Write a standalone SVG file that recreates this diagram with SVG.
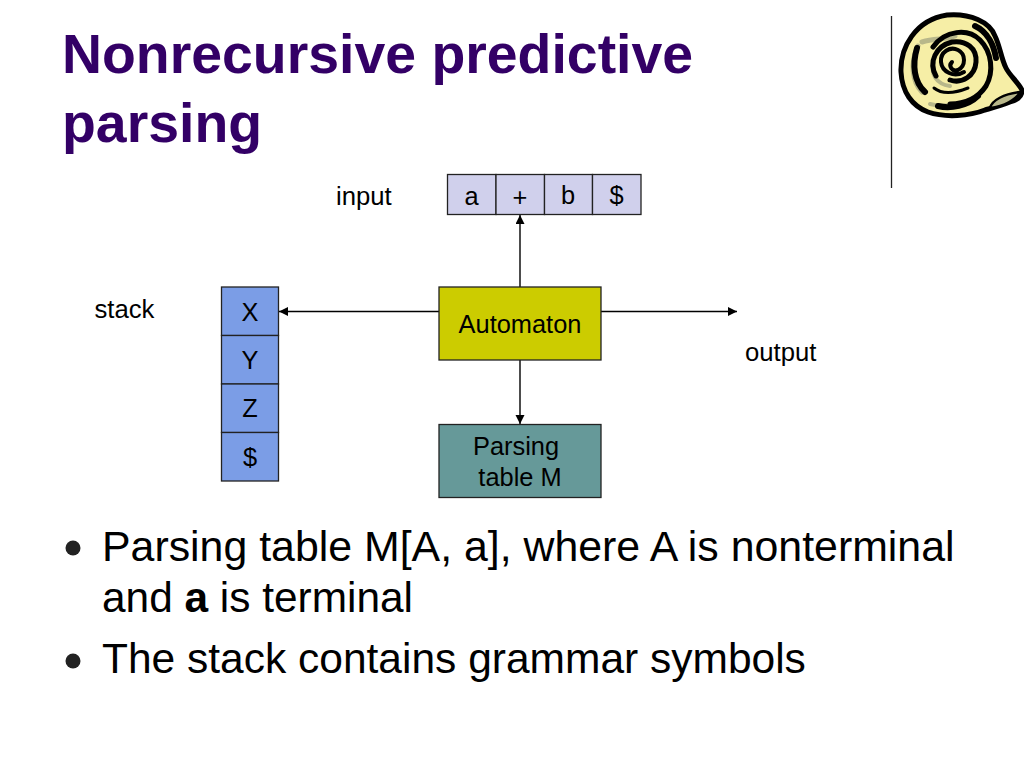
<svg xmlns="http://www.w3.org/2000/svg" width="1024" height="768" viewBox="0 0 1024 768">
<style>
text{font-family:"Liberation Sans",Arial,sans-serif;fill:#000}
.title{font-size:55.4px;font-weight:700;fill:#330066}
.lbl{font-size:25.7px}
.cell{font-size:25.4px;text-anchor:middle}
.body{font-size:42.85px}
.b2{font-size:42.4px}
.b3{font-size:42.5px}
.box{stroke:#222;stroke-width:1.3}
.in{fill:#d0d0ec}
.st{fill:#7b9de6}
.c{stroke:#000;stroke-width:1.4;fill:none;marker-end:url(#ah)}
.k{fill:none;stroke:#000;stroke-linecap:round;stroke-linejoin:round}
.g{fill:none;stroke:#b8b78a;stroke-linecap:round}
</style>
<defs><marker id="ah" markerUnits="userSpaceOnUse" markerWidth="10" markerHeight="10" refX="9" refY="4.500" orient="auto"><path d="M0 0L9 4.500L0 9z" fill="#000"/></marker></defs>
<rect width="1024" height="768" fill="#fff"/>
<g id="title"><text class="title" x="62" y="73">Nonrecursive predictive</text><text class="title" x="62" y="142">parsing</text></g>
<g id="logo">
<line x1="891.500" y1="16" x2="891.500" y2="188" stroke="#222" stroke-width="1.300"/>
<path d="M947 15C970 13 990 22 995 36C1000 46 1001 58 1006 68C1010 76 1018 82 1022 90C1022 98 1016 100 1010 102C1000 106 992 108 985 110C970 116 945 118 928 112C912 106 902 92 901 72C900 48 915 20 947 15Z" fill="#f6eea6" stroke="#000" stroke-width="5"/>
<path d="M990 108C992 100 1004 94 1020 92C1016 100 1004 106 990 108Z" fill="#b8b78a" stroke="#000" stroke-width="2.500"/>
<path class="g" stroke-width="5" d="M918 46C910 62 912 82 922 92"/>
<path class="g" stroke-width="5" d="M922 42C935 38 945 40 955 36"/>
<path class="g" stroke-width="4" d="M930 104C945 108 965 104 978 96"/>
<path class="g" stroke-width="4" d="M934 62C930 74 936 84 950 86"/>
<path class="k" stroke-width="6" d="M917 48C912 65 914 82 925 92"/>
<path class="k" stroke-width="5" d="M933 47C945 30 968 28 980 40C992 52 994 72 986 86C978 98 965 104 950 104"/>
<path class="k" stroke-width="6" d="M938 106C950 109 968 106 978 96"/>
<path class="k" stroke-width="5" d="M936 76C928 62 936 46 952 42C966 40 977 48 976 62C975 76 962 84 950 80"/>
<path class="k" stroke-width="4" d="M964 72C954 78 942 72 941 62C940 52 950 46 958 50C966 54 966 66 958 70C952 72 948 66 952 62"/>
<path class="k" stroke-width="6" d="M975 26C988 32 994 46 996 58"/>
<path class="k" stroke-width="3" d="M934 88C944 96 958 92 968 88"/>
</g>
<g id="connectors">
<path class="c" d="M520 287V215"/>
<path class="c" d="M439 311.500H279"/>
<path class="c" d="M601 311.500H737"/>
<path class="c" d="M520 360V424"/>
</g>
<text class="lbl" x="336" y="205">input</text>
<text class="lbl" x="94.500" y="318">stack</text>
<text class="lbl" x="745" y="361">output</text>
<g id="input-a"><rect class="box in" x="447.500" y="174.500" width="48.500" height="40"/><text class="cell" x="471.500" y="205">a</text></g>
<g id="input-plus"><rect class="box in" x="496" y="174.500" width="48.500" height="40"/><text class="cell" x="520" y="206">+</text></g>
<g id="input-b"><rect class="box in" x="544.500" y="174.500" width="48" height="40"/><text class="cell" x="568" y="204">b</text></g>
<g id="input-dollar"><rect class="box in" x="592.500" y="174.500" width="48.500" height="40"/><text class="cell" x="616.500" y="204">$</text></g>
<g id="stack-x"><rect class="box st" x="221.500" y="287" width="57" height="48.500"/><text class="cell" x="250" y="321">X</text></g>
<g id="stack-y"><rect class="box st" x="221.500" y="335.500" width="57" height="48.500"/><text class="cell" x="250" y="369">Y</text></g>
<g id="stack-z"><rect class="box st" x="221.500" y="384" width="57" height="48.500"/><text class="cell" x="250" y="417">Z</text></g>
<g id="stack-dollar"><rect class="box st" x="221.500" y="432.500" width="57" height="48.500"/><text class="cell" x="250" y="466">$</text></g>
<g id="automaton"><rect class="box" x="439" y="287" width="162" height="73" fill="#cccc00"/><text class="cell" x="520" y="333">Automaton</text></g>
<g id="parsing-table"><rect class="box" x="439" y="424.500" width="162" height="73" fill="#669999"/><text class="cell" x="516" y="455">Parsing</text><text class="cell" x="520" y="486">table M</text></g>
<g id="bullets">
<circle cx="73" cy="548" r="7.500" fill="#222"/>
<text class="body" x="102" y="561">Parsing table M[A, a], where A is nonterminal</text>
<text class="b2" x="102" y="612">and <tspan font-weight="700">a</tspan> is terminal</text>
<circle cx="73" cy="661" r="7.500" fill="#222"/>
<text class="b3" x="102" y="673">The stack contains grammar symbols</text>
</g>
</svg>
